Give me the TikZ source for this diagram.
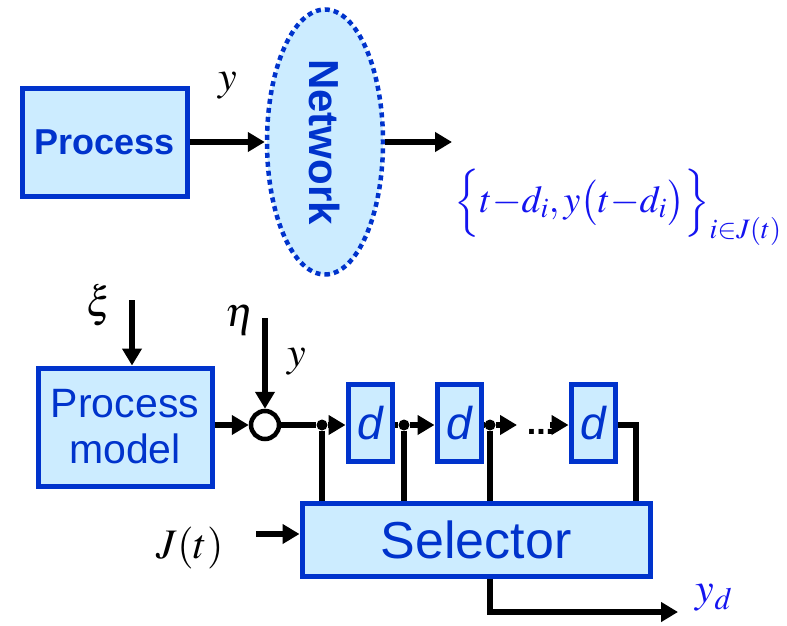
\documentclass[tikz,border=0pt]{standalone}
\usepackage{mathptmx}
\usepackage{fontspec}
\setsansfont{Liberation Sans}
\usetikzlibrary{arrows.meta,shapes.geometric}
\definecolor{boxfill}{RGB}{204,236,255}
\definecolor{boxline}{RGB}{0,51,204}
\definecolor{mathblue}{RGB}{20,20,240}
\tikzset{
  blk/.style={draw=boxline, line width=5pt, fill=boxfill, text=boxline, inner sep=0pt, font=\sffamily},
  sig/.style={line width=5.5pt, -{Triangle[length=17pt,width=19pt]}},
  wire/.style={line width=5.5pt},
  lab/.style={font=\fontsize{42}{42}\selectfont},
  junc/.style={circle, fill=black, inner sep=0pt, minimum size=11pt}
}
\begin{document}
\begin{tikzpicture}[x=1pt,y=-1pt]
    \useasboundingbox (0,0) rectangle (787,626);

    % Process sending over the network
    \node[blk, minimum width=165pt, minimum height=108pt, font=\sffamily\bfseries\fontsize{36}{36}\selectfont] (proc) at (104.5,142) {Process};
    \node[ellipse, draw=boxline, fill=boxfill, line width=4.5pt, dash pattern=on 5pt off 4pt,
          minimum width=265pt, minimum height=116pt, inner sep=0pt, rotate=-90,
          text=boxline, font=\sffamily\bfseries\fontsize{42}{42}\selectfont] (net) at (325,142) {Network};
    \coordinate (netout) at (452,142);
    \draw[sig] (proc.east) -- (net.south);
    \draw[sig] (net.north) -- (netout);
    \node[lab] (ytop) at (228,86) {$y$};
    \node[text=mathblue, font=\fontsize{38}{38}\selectfont] (recv) at (618,207)
        {$\Big\{t{-}d_i, y\big(t{-}d_i\big)\Big\}_{i\in J(t)}$};

    % Process model with noise
    \node[blk, minimum width=174pt, minimum height=118pt, align=center, font=\sffamily\fontsize{41}{46}\selectfont] (pm) at (125,427) {Process\\model};
    \node[lab] (xi) at (100,305) {$\xi$};
    \coordinate (xiin) at (132,300);
    \draw[sig] (xiin) -- (xiin |- pm.north);
    \node[circle, draw, fill=white, line width=4.5pt, minimum size=28pt, inner sep=0pt] (sum) at (265,425) {};
    \node[lab] (eta) at (240,320) {$\eta$};
    \coordinate (etain) at (265,318);
    \draw[sig] (etain) -- (sum.north);
    \draw[sig] (pm.east |- sum) -- (sum.west);
    \node[lab] (ybot) at (297,362) {$y$};

    % Delay line
    \foreach \nm/\xx in {d1/370, d2/459, d3/593}
        \node[blk, minimum width=44pt, minimum height=77pt, font=\sffamily\itshape\fontsize{46}{46}\selectfont] (\nm) at (\xx,423) {d};
    \node[blk, minimum width=348pt, minimum height=73pt, font=\sffamily\fontsize{52}{52}\selectfont] (sel) at (476,539.5) {Selector};

    \node[junc] (j1) at (322,425) {};
    \node[junc] (j2) at (404,425) {};
    \node[junc] (j3) at (490,425) {};
    \coordinate (gap1) at (517,425);
    \coordinate (gap2) at (550,425);
    \coordinate (tap) at (636,425);
    \node[font=\sffamily\bfseries\fontsize{34}{34}\selectfont] (dots) at (541,432) {...};

    \draw[wire] (sum.east) -- (j1);
    \draw[sig] (j1) -- (d1.west |- j1);
    \draw[wire] (d1.east |- j2) -- (j2);
    \draw[sig] (j2) -- (d2.west |- j2);
    \draw[wire] (d2.east |- j3) -- (j3);
    \draw[sig] (j3) -- (gap1);
    \draw[sig] (gap2) -- (d3.west |- gap2);
    \draw[wire] (d3.east |- tap) -- (tap) -- (tap |- sel.north);
    \foreach \j in {j1,j2,j3}
        \draw[wire] (\j) -- (\j |- sel.north);

    % Selector input and output
    \node[lab] (jt) at (190,548) {$J(t)$};
    \coordinate (jin) at (256,534);
    \draw[sig] (jin) -- (jin -| sel.west);
    \coordinate (ydout) at (678,612);
    \draw[sig] (j3 |- sel.south) -- (j3 |- ydout) -- (ydout);
    \node[lab, text=mathblue] (yd) at (714,598) {$y_d$};
\end{tikzpicture}
\end{document}
